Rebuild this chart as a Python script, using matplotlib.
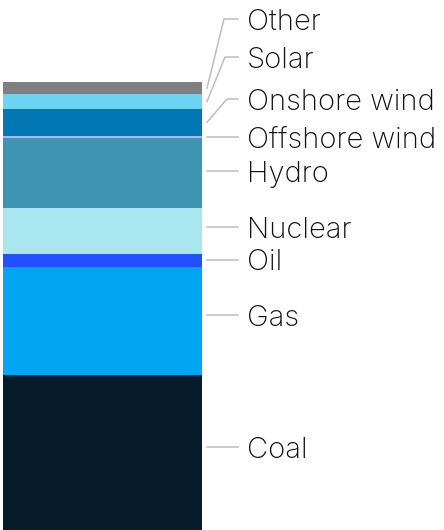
import matplotlib
matplotlib.use("Agg")
import matplotlib.pyplot as plt
from matplotlib.lines import Line2D

# share of generation, bottom to top
sources = ["Coal", "Gas", "Oil", "Nuclear", "Hydro",
           "Offshore wind", "Onshore wind", "Solar", "Other"]
shares = [34.6, 24.1, 2.9, 10.3, 15.6, 0.5, 6.0, 3.3, 2.7]
colors = ["#061c2b", "#00a6f2", "#2150ff", "#a9e6ef", "#3f95b3",
          "#adb6f6", "#0277b3", "#6dd3f3", "#7f7f82"]

# label row (pixels from top) and whether the leader bends
label_y = [447, 315, 260, 227, 171, 137, 99, 57, 19]
bent = [False, False, False, False, False, False, True, True, True]

W, H = 444, 530
fig = plt.figure(figsize=(W / 100, H / 100), dpi=100)
ax = fig.add_axes([3 / W, 0, 199 / W, 448 / H])

bottom = 0
mids = []
for s, v, c in zip(sources, shares, colors):
    ax.bar(0, v, bottom=bottom, width=1, color=c, linewidth=0)
    mids.append(bottom + v / 2)
    bottom += v
ax.set_xlim(-0.5, 0.5)
ax.set_ylim(0, 100)
ax.axis("off")

fig.canvas.draw()
to_fig = fig.transFigure.inverted()
x0 = 207 / W
x_elbow = [None] * 6 + [227 / W, 225 / W, 224 / W]
x1 = 238 / W
xt = 247 / W

for i, s in enumerate(sources):
    ly = 1 - label_y[i] / H
    if bent[i]:
        disp = ax.transData.transform((0, mids[i]))
        my = to_fig.transform(disp)[1]
        xs = [x0, x_elbow[i], x1]
        ys = [my, ly, ly]
    else:
        xs = [x0, x1]
        ys = [ly, ly]
    fig.add_artist(Line2D(xs, ys, transform=fig.transFigure,
                          color="#bdbdbd", linewidth=1.1))
    fig.text(xt, 1 - (label_y[i] + 10.5) / H, s, fontsize=21,
             family=["Inter", "Liberation Sans"], fontweight="light",
             color="#111111", va="baseline", ha="left")

fig.savefig("out.png", dpi=100)
